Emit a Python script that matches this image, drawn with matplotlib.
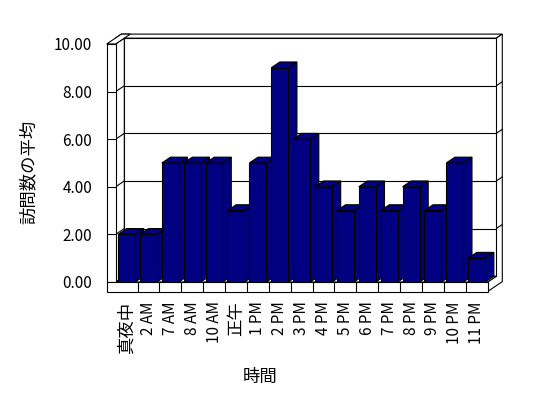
import matplotlib
matplotlib.use("Agg")
import matplotlib.pyplot as plt
from matplotlib.patches import Polygon

categories = ["真夜中", "2 AM", "7 AM", "8 AM", "10 AM", "正午", "1 PM", "2 PM",
              "3 PM", "4 PM", "5 PM", "6 PM", "7 PM", "8 PM", "9 PM", "10 PM", "11 PM"]
visits = [2, 2, 5, 5, 5, 3, 5, 9, 6, 4, 3, 4, 3, 4, 3, 5, 1]
yticks = [0, 2, 4, 6, 8, 10]
ytick_labels = ["0.00", "2.00", "4.00", "6.00", "8.00", "10.00"]

jp = ["Noto Sans CJK JP", "DejaVu Sans"]
plt.rcParams["font.family"] = jp

navy = "#000080"
lw = 0.8

fig = plt.figure(figsize=(5.48, 3.98), dpi=100)
# axes = front plane of the 3D box
ax = fig.add_axes([0.2111, 0.2915, 0.6788, 0.598])
n = len(categories)
xmin, xmax = -0.5, n - 0.5
ymax = 10
ax.set_xlim(xmin, xmax)
ax.set_ylim(0, ymax)
for s in ax.spines.values():
    s.set_visible(False)

# depth direction in data units (one unit of depth = floor depth)
ddx, ddy = 0.393, 0.244
wall_t = 0.41     # left wall thickness (x units)
floor_t = 0.40    # floor thickness (y units)
back_t = 0.7      # back wall thickness (depth units)


def P(x, y, d=0.0):
    return (x + d * ddx, y + d * ddy)


def face(pts, z, fc="white"):
    ax.add_patch(Polygon(pts, closed=True, facecolor=fc, edgecolor="black",
                         lw=lw, zorder=z, clip_on=False, joinstyle="miter"))


def line(p0, p1, z):
    ax.plot([p0[0], p1[0]], [p0[1], p1[1]], color="black", lw=lw,
            zorder=z, clip_on=False, solid_capstyle="butt")


xl = xmin - wall_t
d2 = 1 + back_t
# back wall: top and right faces, then front face
face([P(xl, ymax, 1), P(xmax, ymax, 1), P(xmax, ymax, d2), P(xl, ymax, d2)], 1)
face([P(xmax, -floor_t, 0), P(xmax, 0, 0), P(xmax, 0, 1), P(xmax, ymax, 1),
      P(xmax, ymax, d2), P(xmax, -floor_t, d2)], 1)
face([P(xmin, 0, 1), P(xmax, 0, 1), P(xmax, ymax, 1), P(xmin, ymax, 1)], 2)
for t in yticks[1:-1]:
    line(P(xmin, t, 1), P(xmax, t, 1), 3)
    line(P(xmax, t, 1), P(xmax, t, d2), 3)
    line(P(xl, t, 0), P(xmin, t, 0), 6)

# floor top
face([P(xmin, 0, 0), P(xmax, 0, 0), P(xmax, 0, 1), P(xmin, 0, 1)], 3)

# left wall: inner face, top face, front face
face([P(xmin, 0, 0), P(xmin, ymax, 0), P(xmin, ymax, 1), P(xmin, 0, 1)], 4)
for t in yticks[1:-1]:
    line(P(xmin, t, 0), P(xmin, t, 1), 4.5)
face([P(xl, ymax, 0), P(xmin, ymax, 0), P(xmin, ymax, d2), P(xl, ymax, d2)], 4)
face([P(xl, 0, 0), P(xmin, 0, 0), P(xmin, ymax, 0), P(xl, ymax, 0)], 5)

# floor front face with category dividers
face([P(xl, -floor_t), P(xmax, -floor_t), P(xmax, 0), P(xl, 0)], 5)
for i in range(1, n):
    line(P(i - 0.5, -floor_t), P(i - 0.5, 0), 6)

# bars
w = 0.78
bars = ax.bar(range(n), visits, width=w, color=navy, edgecolor="black",
              linewidth=lw)
for i, (b, v) in enumerate(zip(bars, visits)):
    x0, x1 = i - w / 2, i + w / 2
    face([P(x1, 0), P(x1, v), P(x1, v, 1), P(x1, 0, 1)], 10 + 2 * i, navy)
    face([P(x0, v), P(x1, v), P(x1, v, 1), P(x0, v, 1)], 10 + 2 * i, navy)
    b.set_zorder(11 + 2 * i)

ax.set_yticks(yticks)
ax.set_yticklabels(ytick_labels, fontsize=11)
ax.tick_params(axis="y", length=0, pad=17)
ax.set_xticks(range(n))
ax.set_xticklabels(categories, rotation=90, fontsize=11)
for lab in ax.get_xticklabels():
    if not lab.get_text()[0].isdigit():
        lab.set_fontsize(12.5)
ax.tick_params(axis="x", length=0, pad=14)

fig.text(29 / 548, 1 - 172 / 398, "訪問数の平均", rotation=90, fontsize=12.5,
         ha="center", va="center")
fig.text(260 / 548, 1 - 377 / 398, "時間", fontsize=12.5, ha="center",
         va="center")

fig.savefig("out.png", dpi=100)
